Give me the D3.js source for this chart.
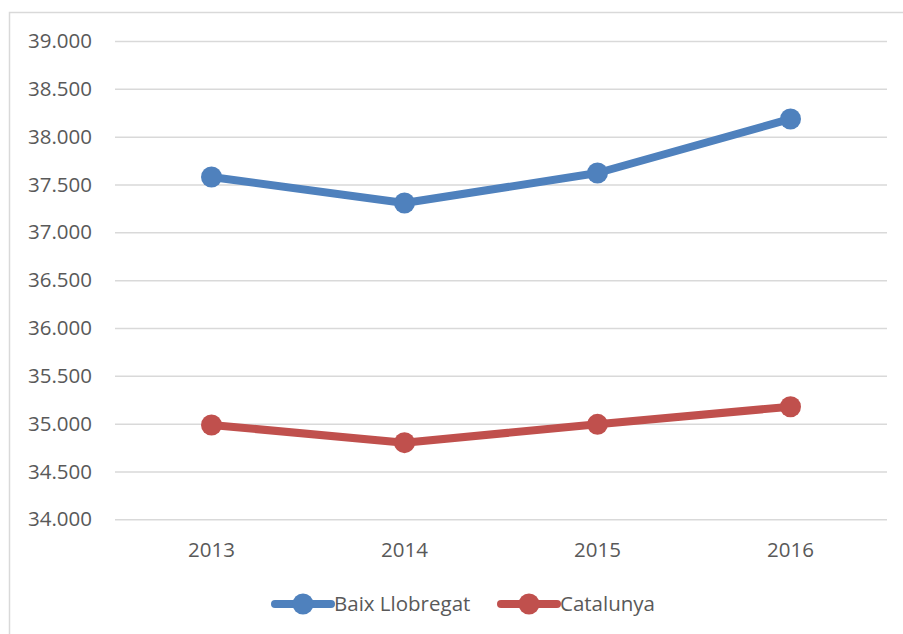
<!DOCTYPE html>
<html>
<head>
<meta charset="utf-8">
<script src="https://cdn.jsdelivr.net/npm/d3@7"></script>
<style>
  html, body { margin: 0; padding: 0; background: #fff; }
  svg { display: block; }
  text { font-family: "Open Sans", "Noto Sans", sans-serif; fill: #595959; }
</style>
</head>
<body>
<svg id="chart" width="903" height="634"></svg>
<script>
const categories = ["2013", "2014", "2015", "2016"];
const baixLlobregat = [37578, 37306, 37620, 38185];
const catalunya = [34986, 34801, 34993, 35177];
const yTicks = [34000, 34500, 35000, 35500, 36000, 36500, 37000, 37500, 38000, 38500, 39000];
const seriesNames = ["Baix Llobregat", "Catalunya"];
const seriesColors = ["#4f81bd", "#c0504d"];

const series = [
  { name: seriesNames[0], values: baixLlobregat, color: seriesColors[0] },
  { name: seriesNames[1], values: catalunya, color: seriesColors[1] }
];

const svg = d3.select("#chart");
const W = 903, H = 634;
const FS = 20.5;

// chart area border (extends beyond the visible window on right/bottom)
svg.append("rect")
  .attr("x", 9.5).attr("y", 12.5)
  .attr("width", W + 20).attr("height", H + 20)
  .attr("fill", "#fff").attr("stroke", "#d9d9d9").attr("stroke-width", 1.5);

const plot = { left: 115, right: 887, top: 41, bottom: 519.3 };

const x = d3.scaleBand().domain(categories).range([plot.left, plot.right]);
const y = d3.scaleLinear().domain([34000, 39000]).range([plot.bottom, plot.top]);

const fmtTick = v => {
  const s = String(v);
  return s.slice(0, s.length - 3) + "." + s.slice(s.length - 3);
};

// grid lines + y labels
const yAxis = d3.axisLeft(y).tickValues(yTicks).tickSize(-(plot.right - plot.left)).tickFormat(fmtTick).tickPadding(23);
const gy = svg.append("g").attr("transform", `translate(${plot.left},0)`).call(yAxis);
gy.select(".domain").remove();
gy.selectAll(".tick line").attr("stroke", "#d9d9d9").attr("stroke-width", 1.5);
gy.selectAll(".tick text").attr("font-size", FS).attr("fill", "#595959")
  .style("font-family", '"Open Sans", sans-serif');

// x axis labels
const xAxis = d3.axisBottom(x).tickSize(0).tickPadding(23);
const gx = svg.append("g").attr("transform", `translate(0,${plot.bottom})`).call(xAxis);
gx.select(".domain").remove();
gx.selectAll(".tick text").attr("font-size", FS).attr("fill", "#595959")
  .style("font-family", '"Open Sans", sans-serif');

// lines
const line = d3.line()
  .x((d, i) => x(categories[i]) + x.bandwidth() / 2)
  .y(d => y(d));

series.forEach(s => {
  svg.append("path")
    .datum(s.values)
    .attr("d", line)
    .attr("fill", "none")
    .attr("stroke", s.color)
    .attr("stroke-width", 8)
    .attr("stroke-linejoin", "round");
  svg.append("g").selectAll("circle")
    .data(s.values)
    .join("circle")
    .attr("cx", (d, i) => x(categories[i]) + x.bandwidth() / 2)
    .attr("cy", d => y(d))
    .attr("r", 10.5)
    .attr("fill", s.color);
});

// legend
const legendY = 604;
const legendItems = [
  { x0: 275, x1: 331, tx: 334 },
  { x0: 501, x1: 557, tx: 560 }
];
series.forEach((s, i) => {
  const li = legendItems[i];
  const g = svg.append("g");
  g.append("line")
    .attr("x1", li.x0).attr("x2", li.x1)
    .attr("y1", legendY).attr("y2", legendY)
    .attr("stroke", s.color).attr("stroke-width", 8).attr("stroke-linecap", "round");
  g.append("circle")
    .attr("cx", (li.x0 + li.x1) / 2).attr("cy", legendY).attr("r", 10.5).attr("fill", s.color);
  g.append("text")
    .attr("x", li.tx).attr("y", legendY)
    .attr("dy", "0.35em")
    .attr("font-size", FS)
    .text(s.name);
});
</script>
</body>
</html>
